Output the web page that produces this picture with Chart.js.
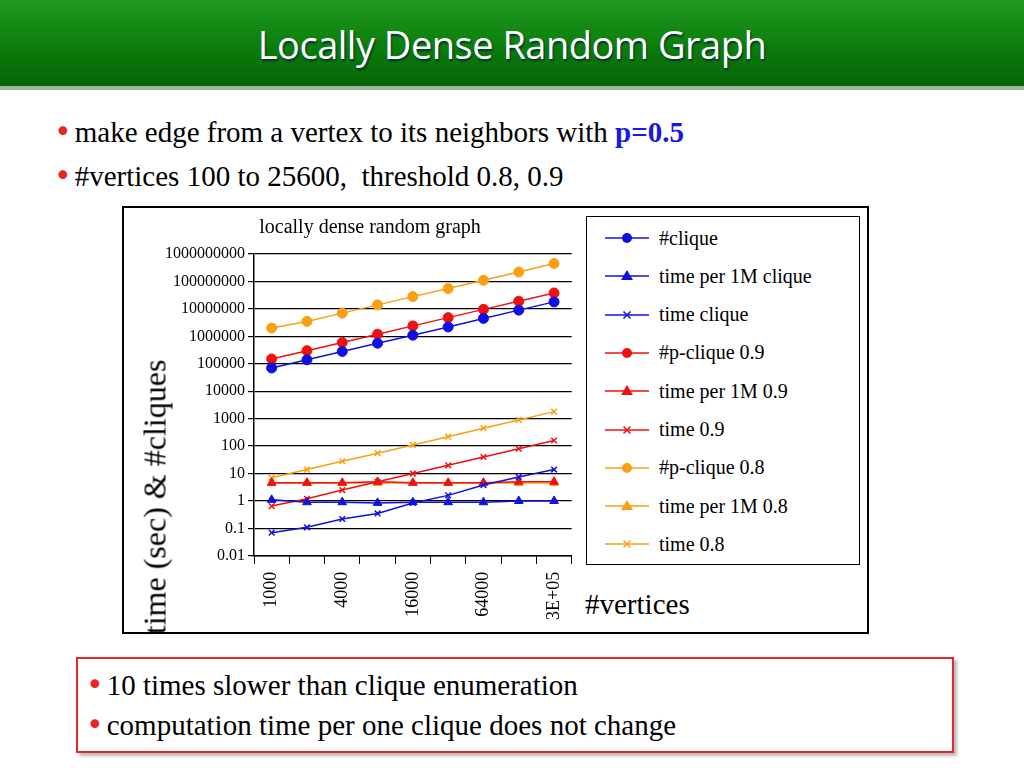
<!DOCTYPE html>
<html><head><meta charset="utf-8">
<script src="https://cdn.jsdelivr.net/npm/chart.js@4"></script>
<style>
body{margin:0;width:1024px;height:768px;background:#fff;position:relative;overflow:hidden;font-family:"Liberation Serif","Times New Roman",Times,serif}
#hdr{position:absolute;left:0;top:0;width:1024px;height:86px;background:linear-gradient(#1f9a1f,#0a7a0a 60%,#066406);border-bottom:4px solid #9ab79a}
#hdr div{color:#fff;font-family:"Open Sans",sans-serif;font-size:38px;text-align:center;line-height:88px;letter-spacing:-0.5px;text-shadow:1px 2px 2px #033}
.b{position:absolute;left:54px;font-size:29px;color:#000}
.dot{color:#e8262a;font-size:30px;margin-right:3px;font-family:"DejaVu Sans",sans-serif}
#box{position:absolute;left:122px;top:206px;width:743px;height:424px;border:2px solid #000}
#cw{position:absolute;left:124px;top:208px;width:460px;height:424px}
#leg{position:absolute;left:586px;top:216px;width:272px;height:347px;border:1px solid #000;font-size:20px}
.li{position:absolute;left:18px;height:20px;display:flex;align-items:center}
.li svg{margin-right:10px}
#xt{position:absolute;left:585px;top:588px;font-size:29px}
#yt{position:absolute;left:155px;top:497px;font-size:32px;white-space:nowrap;transform:translate(-50%,-50%) rotate(-90deg)}
#bot{position:absolute;left:76px;top:657px;width:874px;height:92px;border:2px solid #e8262a;box-shadow:3px 3px 3px #bbb}
#bot .b{left:8px}
</style></head><body>
<div id="hdr"><div>Locally Dense Random Graph</div></div>
<div class="b" style="top:114px"><span class="dot">•</span>make edge from a vertex to its neighbors with <b style="color:#1a1adc">p=0.5</b></div>
<div class="b" style="top:158px"><span class="dot">•</span>#vertices 100 to 25600,&nbsp; threshold 0.8, 0.9</div>
<div id="box"></div>
<div id="cw"><canvas id="c"></canvas></div>
<div id="yt">time (sec) &amp; #cliques</div>
<div id="leg"></div>
<div id="xt">#vertices</div>
<div id="bot">
<div class="b" style="top:8px"><span class="dot">•</span>10 times slower than clique enumeration</div>
<div class="b" style="top:48px"><span class="dot">•</span>computation time per one clique does not change</div>
</div>
<script>
const categories=['1000','2000','4000','8000','16000','32000','64000','128000','3E+05'];
const tickLabels=['1000','','4000','','16000','','64000','','3E+05'];
const yTicks=[0.01,0.1,1,10,100,1000,10000,100000,1000000,10000000,100000000,1000000000];
const clique=[7e4,1.4e5,2.8e5,5.6e5,1.1e6,2.2e6,4.5e6,9e6,1.8e7];
const timePer1M=[1.1,0.9,0.9,0.85,0.9,0.9,0.9,1,1];
const timeClique=[0.07,0.11,0.22,0.35,0.85,1.6,3.8,7.5,14];
const pClique09=[1.5e5,3e5,6e5,1.2e6,2.4e6,4.8e6,9.6e6,1.9e7,3.8e7];
const timePer1M09=[4.6,4.6,4.6,5,4.6,4.6,4.6,5,5];
const time09=[0.65,1.2,2.5,5,10,20,40,80,160];
const pClique08=[2e6,3.5e6,7e6,1.4e7,2.8e7,5.5e7,1.1e8,2.2e8,4.5e8];
const timePer1M08=[4.5,4.5,4.5,4.5,4.5,4.5,4.5,4.5,4.5];
const time08=[7,14,28,55,110,220,450,900,1800];
const BL='#1010e0',RD='#f01010',OR='#f8a010';
const FF='"Liberation Serif","Times New Roman",serif';
const series=[
 ['#clique',clique,BL,'circle'],['time per 1M clique',timePer1M,BL,'triangle'],['time clique',timeClique,BL,'crossRot'],
 ['#p-clique 0.9',pClique09,RD,'circle'],['time per 1M 0.9',timePer1M09,RD,'triangle'],['time 0.9',time09,RD,'crossRot'],
 ['#p-clique 0.8',pClique08,OR,'circle'],['time per 1M 0.8',timePer1M08,OR,'triangle'],['time 0.8',time08,OR,'crossRot']];
const datasets=series.map(s=>({label:s[0],data:s[1],borderColor:s[2],backgroundColor:s[2],pointStyle:s[3],
 pointRadius:s[3]==='crossRot'?4:5,borderWidth:1.5,pointBorderWidth:s[3]==='crossRot'?1.5:1}));
new Chart(document.getElementById('c'),{type:'line',data:{labels:categories,datasets},
options:{responsive:true,maintainAspectRatio:false,animation:false,
 layout:{padding:{top:2,right:6,bottom:4,left:38}},
 plugins:{legend:{display:false},tooltip:{enabled:false},
  title:{display:true,text:'locally dense random graph',color:'#000',font:{family:FF,size:20,weight:'normal'},padding:{top:6,bottom:14}}},
 scales:{
  x:{offset:true,grid:{offset:true,drawOnChartArea:false,color:'#000',tickLength:8},border:{color:'#000',width:1.5},
     ticks:{autoSkip:false,maxRotation:90,minRotation:90,padding:8,color:'#000',font:{family:FF,size:18},callback:(v,i)=>tickLabels[i]}},
  y:{type:'logarithmic',min:0.01,max:1e9,
     afterBuildTicks:ax=>{ax.ticks=yTicks.map(v=>({value:v}))},
     grid:{color:'#000',lineWidth:1.2,tickLength:6},border:{color:'#000',width:1.5},
     ticks:{color:'#000',font:{family:FF,size:16},callback:v=>String(v)}}}}});
const leg=document.getElementById('leg');
series.forEach((s,i)=>{
 const d=document.createElement('div');d.className='li';d.style.top=(11+i*38.3)+'px';
 let m=s[3]==='circle'?`<circle cx="22" cy="10" r="5" fill="${s[2]}"/>`:
   s[3]==='triangle'?`<polygon points="22,4 28,14 16,14" fill="${s[2]}"/>`:
   `<path d="M18.5 6.5L25.5 13.5M25.5 6.5L18.5 13.5" stroke="${s[2]}" stroke-width="1.5"/>`;
 d.innerHTML=`<svg width="44" height="20"><line x1="0" y1="10" x2="44" y2="10" stroke="${s[2]}" stroke-width="1.5"/>${m}</svg><span>${s[0]}</span>`;
 leg.appendChild(d);});
</script></body></html>
